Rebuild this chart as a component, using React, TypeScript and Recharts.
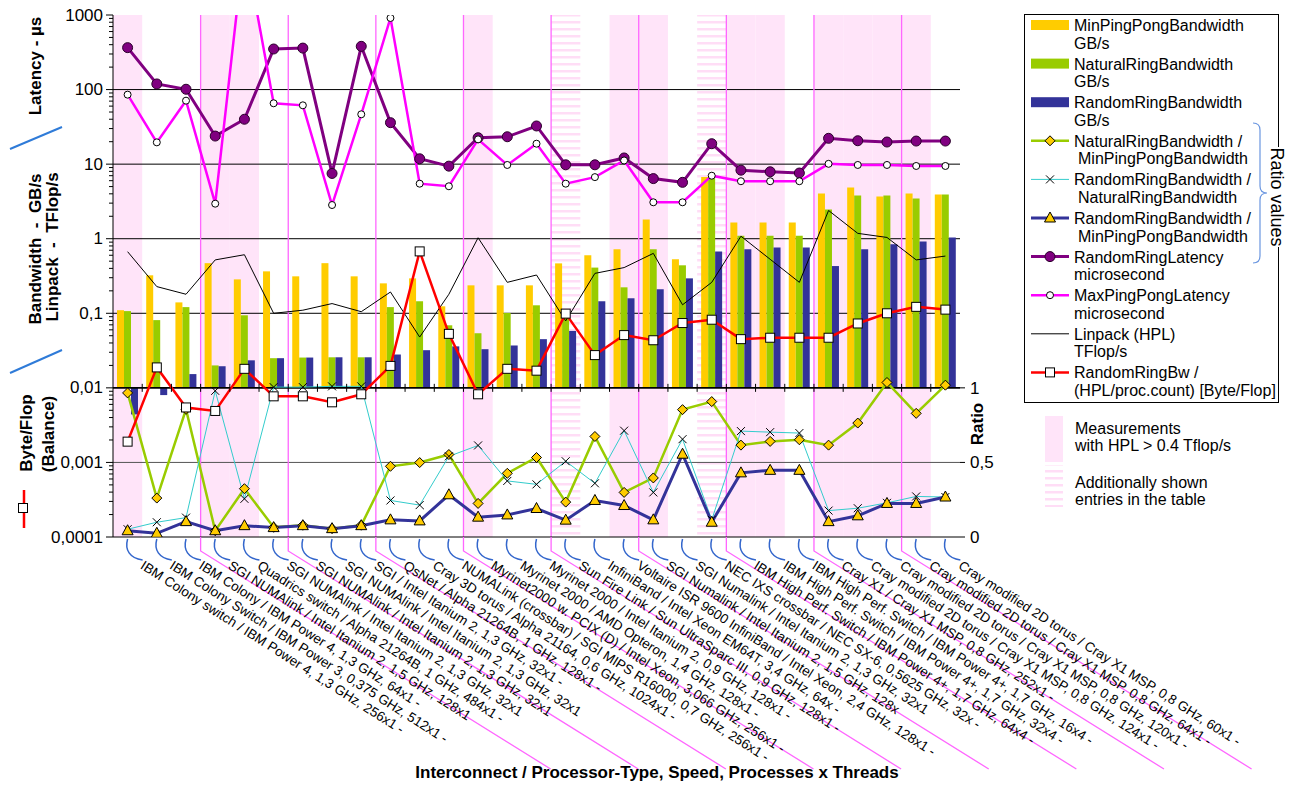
import React from 'react'
import { ComposedChart, Bar, Line, XAxis, YAxis, ReferenceArea, ReferenceLine } from 'recharts'

const labels = [
  'IBM Colony switch / IBM Power 4, 1,3 GHz, 256x1 -',
  'IBM Colony Switch / IBM Power 3, 0,375 GHz, 512x1 -',
  'IBM Colony / IBM Power 4, 1,3 GHz, 64x1 -',
  'SGI NUMAlink / Intel Itanium 2, 1,5 GHz, 128x1',
  'Quadrics switch / Alpha 21264B, 1 GHz, 484x1 -',
  'SGI NUMAlink / Intel Itanium 2, 1,3 GHz, 32x1',
  'SGI NUMAlink / Intel Itanium 2, 1,3 GHz, 32x1',
  'SGI NUMAlink / Intel Itanium 2, 1,3 GHz, 32x1',
  'SGI / Intel Itanium 2, 1,3 GHz, 32x1 -',
  'QsNet / Alpha 21264B, 1 GHz, 128x1 -',
  'Cray 3D torus / Alpha 21164, 0,6 GHz, 1024x1 -',
  'NUMALink (crossbar) / SGI MIPS R16000, 0,7 GHz, 256x1 -',
  'Myrinet2000 w. PCIX (D) / Intel Xeon, 3,066 GHz, 256x1 -',
  'Myrinet 2000 / AMD Opteron, 1,4 GHz, 128x1 -',
  'Myrinet 2000 / Intel Itanium 2, 0,9 GHz, 128x1 -',
  'Sun Fire Link / Sun UltraSparc III, 0,9 GHz, 128x1 -',
  'InfiniBand / Intel Xeon EM64T, 3,4 GHz, 64x -',
  'Voltaire ISR 9600 InfiniBand / Intel Xeon, 2,4 GHz, 128x1 -',
  'SGI Numalink / Intel Itanium 2, 1,5 GHz, 128x',
  'SGI Numalink / Intel Itanium 2, 1,3 GHz, 32x1',
  'NEC IXS crossbar / NEC SX-6, 0,5625 GHz, 32x -',
  'IBM High Perf. Switch / IBM Power 4+, 1,7 GHz, 64x4 -',
  'IBM High Perf. Switch / IBM Power 4+, 1,7 GHz, 32x4 -',
  'IBM High Perf. Switch / IBM Power 4+, 1,7 GHz, 16x4 -',
  'Cray X1 / Cray X1 MSP, 0,8 GHz, 252x1 -',
  'Cray modified 2D torus / Cray X1 MSP, 0,8 GHz, 124x1 -',
  'Cray modified 2D torus / Cray X1 MSP, 0,8 GHz, 120x1 -',
  'Cray modified 2D torus / Cray X1 MSP, 0,8 GHz, 64x1 -',
  'Cray modified 2D torus / Cray X1 MSP, 0,8 GHz, 60x1 -',
]

// GB/s
const minPingPongBw = [0.11, 0.323, 0.14, 0.47, 0.285, 0.365, 0.313, 0.47, 0.313, 0.252, 0.294, 0.124, 0.237, 0.237, 0.237, 0.467, 0.6, 0.72, 1.81, 0.53, 6.7, 1.65, 1.65, 1.65, 4.05, 4.87, 3.68, 4.05, 3.92]
const naturalRingBw = [0.107, 0.081, 0.121, 0.02, 0.094, 0.025, 0.0255, 0.0257, 0.0257, 0.121, 0.145, 0.069, 0.054, 0.101, 0.128, 0.105, 0.41, 0.223, 0.72, 0.44, 6.4, 1.1, 1.1, 1.1, 2.47, 3.8, 3.8, 3.46, 3.92]
const randomRingBw = [0.0044, 0.008, 0.0153, 0.0195, 0.0234, 0.025, 0.0255, 0.0257, 0.0257, 0.028, 0.032, 0.036, 0.033, 0.037, 0.045, 0.058, 0.145, 0.159, 0.21, 0.294, 0.676, 0.72, 0.76, 0.76, 0.43, 0.72, 0.84, 0.92, 1.04]

// ratios (right axis)
const natToMinRatio = [0.966, 0.261, 0.856, 0.042, 0.324, 0.065, 0.079, 0.056, 0.079, 0.474, 0.499, 0.553, 0.225, 0.427, 0.533, 0.234, 0.674, 0.299, 0.396, 0.854, 0.908, 0.616, 0.641, 0.652, 0.616, 0.764, 1.036, 0.829, 1.018]
const rndToNatRatio = [0.052, 0.099, 0.13, 0.98, 0.256, 1.005, 1.005, 1.01, 1.01, 0.245, 0.214, 0.541, 0.614, 0.376, 0.353, 0.508, 0.36, 0.713, 0.299, 0.656, 0.115, 0.71, 0.703, 0.697, 0.177, 0.193, 0.229, 0.272, 0.268]
const rndToMinRatio = [0.042, 0.025, 0.103, 0.042, 0.076, 0.063, 0.076, 0.056, 0.076, 0.115, 0.108, 0.283, 0.133, 0.148, 0.191, 0.113, 0.245, 0.211, 0.115, 0.555, 0.099, 0.43, 0.447, 0.447, 0.103, 0.142, 0.225, 0.225, 0.268]

// microseconds
const randomRingLatency = [365, 119, 101, 23.8, 40, 350, 360, 7.5, 380, 36, 11.8, 9.4, 22.6, 23.3, 32.5, 9.8, 9.8, 12.1, 6.4, 5.7, 18.8, 8.3, 7.9, 7.6, 22.2, 20.6, 19.8, 20.4, 20.4]
const maxPingPongLatency = [85.5, 19.6, 71, 2.95, 9000, 65.5, 61.5, 2.83, 46.6, 912, 5.47, 5.05, 21.5, 9.75, 18.8, 5.47, 6.7, 11.2, 3.08, 3.08, 7.0, 5.9, 5.9, 5.9, 10.1, 9.75, 9.75, 9.45, 9.45]

// TFlop/s and Byte/Flop
const linpack = [0.67, 0.228, 0.18, 0.52, 0.61, 0.1, 0.11, 0.135, 0.105, 0.193, 0.048, 0.18, 1.03, 0.26, 0.326, 0.079, 0.343, 0.41, 0.636, 0.13, 0.26, 1.08, 0.53, 0.26, 2.39, 1.18, 1.04, 0.52, 0.585]
const byteFlop = [0.0019, 0.0188, 0.00546, 0.0049, 0.018, 0.0077, 0.0077, 0.0064, 0.0082, 0.0197, 0.676, 0.053, 0.0082, 0.018, 0.017, 0.099, 0.0275, 0.051, 0.0435, 0.074, 0.082, 0.045, 0.047, 0.047, 0.047, 0.073, 0.1, 0.122, 0.112]

const hplOverLimit = [0, 3, 4, 12, 17, 18, 21, 22, 24, 25, 26, 27, 28]
const extraEntries = [15, 20]
const groupStarts = [3, 6, 9, 12, 15, 18, 21, 24, 27]

const leftTicks = [0.0001, 0.001, 0.01, 0.1, 1, 10, 100, 1000]
const leftTickLabels = ['0,0001', '0,001', '0,01', '0,1', '1', '10', '100', '1000']
const ratioTicks = [0, 0.5, 1]
const ratioTickLabels = ['0', '0,5', '1']

const BAR_BASE = 0.01
const minorTicks = leftTicks.slice(0, -1).flatMap((d) => [2, 3, 4, 5, 6, 7, 8, 9].map((k) => +(d * k).toPrecision(3)))
const allLeftTicks = [...leftTicks, ...minorTicks].sort((a, b) => a - b)

// body margin is removed so the svg covers the whole page
const W = 1289
const H = 785
const MARGIN = { top: 15, right: 289, bottom: 8, left: 53 }
const PLOT_W = W - MARGIN.left - MARGIN.right - 60 - 40
const PLOT_H = H - MARGIN.top - MARGIN.bottom - 240
const BAND = PLOT_W / labels.length
const MID = (PLOT_H * 2) / 7

const FONT = '"Liberation Sans", Arial, sans-serif'
const PINK = '#FFE4F9'
const SEP = '#FF66FF'
const NB = '\u00A0'

const data = labels.map((label, i) => ({
  idx: i,
  label,
  minBw: [BAR_BASE, minPingPongBw[i]],
  natBw: [BAR_BASE, naturalRingBw[i]],
  rndBw: [BAR_BASE, randomRingBw[i]],
  natMin: natToMinRatio[i],
  rndNat: rndToNatRatio[i],
  rndMin: rndToMinRatio[i],
  rrLat: randomRingLatency[i],
  ppLat: maxPingPongLatency[i],
  hpl: linpack[i],
  bf: byteFlop[i],
}))

const Diamond = ({ cx, cy }: any) => (
  <path d={`M${cx},${cy - 5}L${cx + 5},${cy}L${cx},${cy + 5}L${cx - 5},${cy}Z`} fill="#FFCC00" stroke="#000" strokeWidth={1} />
)
const Triangle = ({ cx, cy }: any) => (
  <path d={`M${cx},${cy - 6}L${cx + 5.5},${cy + 4}L${cx - 5.5},${cy + 4}Z`} fill="#FFCC00" stroke="#000" strokeWidth={1} />
)
const Cross = ({ cx, cy }: any) => (
  <path d={`M${cx - 4},${cy - 4}L${cx + 4},${cy + 4}M${cx - 4},${cy + 4}L${cx + 4},${cy - 4}`} stroke="#000" strokeWidth={1} fill="none" />
)
const BigDot = ({ cx, cy }: any) => <circle cx={cx} cy={cy} r={5} fill="#800080" stroke="#2a002a" strokeWidth={1} />
const SmallDot = ({ cx, cy }: any) => <circle cx={cx} cy={cy} r={3.5} fill="#fff" stroke="#000" strokeWidth={1} />
const Square = ({ cx, cy }: any) => <rect x={cx - 4.5} y={cy - 4.5} width={9} height={9} fill="#fff" stroke="#000" strokeWidth={1} />

const dotOf = (Shape: any, name: string) => (p: any) =>
  p.cx == null || p.cy == null ? <g key={`${name}-${p.index}`} /> : <Shape key={`${name}-${p.index}`} cx={p.cx} cy={p.cy} />

const LeftTick = (props: any) => {
  const { x, y, payload } = props
  const i = leftTicks.indexOf(payload.value)
  if (i < 0) return <line x1={x - 4} x2={x} y1={y} y2={y} stroke="#000" />
  return (
    <g>
      <line x1={x - 7} x2={x} y1={y} y2={y} stroke="#000" />
      <text x={x - 10} y={y} textAnchor="end" dominantBaseline="central" fontSize={17} fontFamily={FONT} fill="#000">
        {leftTickLabels[i]}
      </text>
    </g>
  )
}

const XTick = (props: any) => {
  const { x, y, payload } = props
  const i = Number(payload.value)
  const bx = x - BAND / 2
  return (
    <g>
      <path d={`M${x},${y + 2} C${x - 3},${y + 13} ${x + 2},${y + 21} ${x + 15},${y + 23}`} stroke="#3366CC" strokeWidth={1.5} fill="none" />
      {i > 0 && <line x1={bx} x2={bx} y1={y - MID - 4} y2={y - MID + 4} stroke="#000" />}
      {groupStarts.includes(i) && (
        <path d={`M${bx},${y} L${bx},${y + 14} L${bx + 350},${y + 232}`} stroke={SEP} strokeWidth={1.3} fill="none" />
      )}
      <text transform={`translate(${x + 12},${y + 31}) rotate(32.5)`} fontSize={13.5} fontFamily={FONT} fill="#000">
        {labels[i]}
      </text>
    </g>
  )
}

const legendItems = [
  { lines: ['MinPingPongBandwidth', 'GB/s'], kind: 'bar', color: '#FFCC00' },
  { lines: ['NaturalRingBandwidth', 'GB/s'], kind: 'bar', color: '#99CC00' },
  { lines: ['RandomRingBandwidth', 'GB/s'], kind: 'bar', color: '#333399' },
  { lines: ['NaturalRingBandwidth /', 'MinPingPongBandwidth'], kind: 'line', color: '#99CC00', width: 2.5, Marker: Diamond },
  { lines: ['RandomRingBandwidth /', 'NaturalRingBandwidth'], kind: 'line', color: '#33CCCC', width: 1, Marker: Cross },
  { lines: ['RandomRingBandwidth /', 'MinPingPongBandwidth'], kind: 'line', color: '#333399', width: 3, Marker: Triangle },
  { lines: ['RandomRingLatency', 'microsecond'], kind: 'line', color: '#800080', width: 3, Marker: BigDot },
  { lines: ['MaxPingPongLatency', 'microsecond'], kind: 'line', color: '#FF00FF', width: 2.5, Marker: SmallDot },
  { lines: ['Linpack (HPL)', 'TFlop/s'], kind: 'line', color: '#000', width: 1 },
  { lines: ['RandomRingBw /', '(HPL/proc.count) [Byte/Flop]'], kind: 'line', color: '#FF0000', width: 2.5, Marker: Square },
]

const Overlay = () => (
  <svg width={W} height={H} style={{ position: 'absolute', left: 0, top: 0, pointerEvents: 'none' }} fontFamily={FONT}>
    <g transform="translate(8,8)">
      {/* left axis titles */}
      <text transform="translate(27,58) rotate(-90)" textAnchor="middle" dominantBaseline="central" fontSize={17} fontWeight="bold">Latency - µs</text>
      <line x1={2} y1={141} x2={54} y2={119} stroke="#2F7BD8" strokeWidth={2} />
      <text transform="translate(27,241) rotate(-90)" textAnchor="middle" dominantBaseline="central" fontSize={17} fontWeight="bold">
        {`Bandwidth${NB}${NB}-${NB}${NB}GB/s`}
      </text>
      <text transform="translate(44,239) rotate(-90)" textAnchor="middle" dominantBaseline="central" fontSize={17} fontWeight="bold">
        {`Linpack${NB}${NB}-${NB}${NB}TFlop/s`}
      </text>
      <line x1={2} y1={365} x2={54} y2={342} stroke="#2F7BD8" strokeWidth={2} />
      <text transform="translate(18,425) rotate(-90)" textAnchor="middle" dominantBaseline="central" fontSize={17} fontWeight="bold">Byte/Flop</text>
      <text transform="translate(40,426) rotate(-90)" textAnchor="middle" dominantBaseline="central" fontSize={17} fontWeight="bold">(Balance)</text>
      <line x1={16} y1={482} x2={16} y2={520} stroke="#FF0000" strokeWidth={2.5} />
      <Square cx={15} cy={500} />
      {/* right axis title */}
      <text transform="translate(969,416) rotate(-90)" textAnchor="middle" dominantBaseline="central" fontSize={17} fontWeight="bold">Ratio</text>
      {/* x axis title */}
      <text x={649} y={764} textAnchor="middle" dominantBaseline="central" fontSize={17} fontWeight="bold">
        Interconnect / Processor-Type, Speed, Processes x Threads
      </text>

      {/* legend */}
      <rect x={1016.5} y={6.5} width={254} height={388} fill="#fff" stroke="#000" strokeWidth={1} />
      {legendItems.map((it, i) => {
        const cy = 17 + i * 38.6
        return (
          <g key={i}>
            {it.kind === 'bar' ? (
              <rect x={1023} y={cy - 5} width={38} height={10} fill={it.color} />
            ) : (
              <line x1={1023} x2={1061} y1={cy} y2={cy} stroke={it.color} strokeWidth={it.width} />
            )}
            {it.Marker && <it.Marker cx={1042} cy={cy} />}
            <text x={1066} y={cy + 6} fontSize={16}>{it.lines[0]}</text>
            <text x={i >= 3 && i <= 5 ? 1070 : 1066} y={cy + 23.5} fontSize={16}>{it.lines[1]}</text>
          </g>
        )
      })}
      <path d="M1245,115 Q1252,115 1252,122 L1252,178 Q1252,185 1259,185 Q1252,185 1252,192 L1252,248 Q1252,255 1245,255" stroke="#6A96E0" strokeWidth={1.2} fill="none" />
      <g transform="translate(1269,189) rotate(90)">
        <rect x={-50} y={-10} width={100} height={20} fill="#fff" />
        <text textAnchor="middle" dominantBaseline="central" fontSize={18}>Ratio values</text>
      </g>

      {/* background key */}
      <rect x={1037} y={408} width={18} height={46} fill={PINK} />
      <text x={1067} y={426} fontSize={16}>Measurements</text>
      <text x={1067} y={443} fontSize={16}>with HPL &gt; 0.4 Tflop/s</text>
      <rect x={1037} y={457} width={18} height={42} fill="url(#stripes)" />
      <text x={1067} y={480} fontSize={16}>Additionally shown</text>
      <text x={1067} y={497} fontSize={16}>entries in the table</text>
    </g>
  </svg>
)

export default function App() {
  return (
    <div style={{ position: 'relative', width: W, height: H, overflow: 'hidden', fontFamily: FONT }}>
      <style>{'html,body{margin:0;padding:0;overflow:hidden;}'}</style>
      <svg width={0} height={0} style={{ position: 'absolute' }}>
        <defs>
          <pattern id="stripes" width={8} height={7} patternUnits="userSpaceOnUse">
            <rect width={8} height={2.5} fill="#FFDDF6" />
          </pattern>
        </defs>
      </svg>
      <ComposedChart width={W} height={H} data={data} margin={MARGIN} barGap={0}>
        {hplOverLimit.map((i) => (
          <ReferenceArea key={`h${i}`} x1={i} x2={i} yAxisId="left" fill={PINK} fillOpacity={1} stroke="none" zIndex={-300} />
        ))}
        {extraEntries.map((i) => (
          <ReferenceArea key={`e${i}`} x1={i} x2={i} yAxisId="left" fill="url(#stripes)" fillOpacity={1} stroke="none" zIndex={-300} />
        ))}
        {[100, 10, 1, 0.1].map((v) => (
          <ReferenceLine key={`g${v}`} y={v} yAxisId="left" stroke="#000" strokeWidth={1} zIndex={-250} />
        ))}
        <ReferenceLine y={0.001} yAxisId="left" stroke="#555" strokeWidth={1} zIndex={-250} />
        {groupStarts.map((i) => (
          <ReferenceLine key={`s${i}`} x={i} position="start" yAxisId="left" stroke={SEP} strokeWidth={1.3} zIndex={-240} />
        ))}

        <XAxis
          dataKey="idx"
          type="category"
          interval={0}
          height={240}
          tickSize={0}
          tickMargin={0}
          tickLine={false}
          axisLine={{ stroke: '#000' }}
          tick={(p: any) => <XTick {...p} />}
        />
        <YAxis
          yAxisId="left"
          type="number"
          scale="log"
          domain={[0.0001, 1000]}
          allowDataOverflow
          ticks={allLeftTicks}
          interval={0}
          width={60}
          tickSize={0}
          tickMargin={0}
          tickLine={false}
          axisLine={{ stroke: '#000' }}
          tick={(p: any) => <LeftTick {...p} />}
        />
        <YAxis
          yAxisId="ratio"
          orientation="right"
          type="number"
          domain={[0, 3.5]}
          allowDataOverflow
          ticks={ratioTicks}
          interval={0}
          width={40}
          tickSize={5}
          tickMargin={5}
          axisLine={false}
          tickLine={{ stroke: '#000' }}
          tickFormatter={(v: number) => ratioTickLabels[ratioTicks.indexOf(v)]}
          tick={{ fill: '#000', fontSize: 17, fontFamily: FONT }}
        />

        <Bar dataKey="minBw" yAxisId="left" fill="#FFCC00" barSize={7} isAnimationActive={false} />
        <Bar dataKey="natBw" yAxisId="left" fill="#99CC00" barSize={7} isAnimationActive={false} />
        <Bar dataKey="rndBw" yAxisId="left" fill="#333399" barSize={7} isAnimationActive={false} />

        <ReferenceLine y={0.01} yAxisId="left" stroke="#000" strokeWidth={1.6} />

        <Line dataKey="natMin" yAxisId="ratio" stroke="#99CC00" strokeWidth={2.5} dot={dotOf(Diamond, 'dm')} isAnimationActive={false} />
        <Line dataKey="rndNat" yAxisId="ratio" stroke="#33CCCC" strokeWidth={1} dot={dotOf(Cross, 'cx')} isAnimationActive={false} />
        <Line dataKey="rndMin" yAxisId="ratio" stroke="#333399" strokeWidth={3} dot={dotOf(Triangle, 'tr')} isAnimationActive={false} />
        <Line dataKey="rrLat" yAxisId="left" stroke="#800080" strokeWidth={3} dot={dotOf(BigDot, 'bd')} isAnimationActive={false} />
        <Line dataKey="ppLat" yAxisId="left" stroke="#FF00FF" strokeWidth={2.5} dot={dotOf(SmallDot, 'sd')} isAnimationActive={false} />
        <Line dataKey="hpl" yAxisId="left" stroke="#000" strokeWidth={1} dot={false} isAnimationActive={false} />
        <Line dataKey="bf" yAxisId="left" stroke="#FF0000" strokeWidth={2.5} dot={dotOf(Square, 'sq')} isAnimationActive={false} />

        <ReferenceArea x1={0} x2={labels.length - 1} yAxisId="left" fill="none" stroke="#000" strokeWidth={1} />
      </ComposedChart>
      <Overlay />
    </div>
  )
}
